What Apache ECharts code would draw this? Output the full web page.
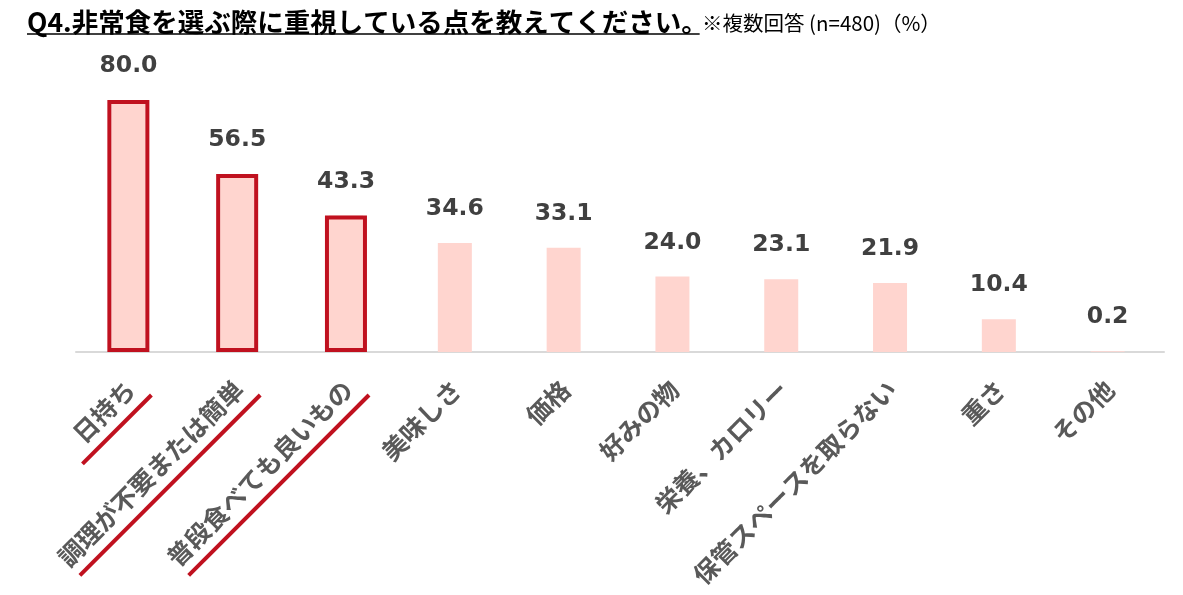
<!DOCTYPE html>
<html>
<head>
<meta charset="utf-8">
<script src="https://cdn.jsdelivr.net/npm/echarts@6/dist/echarts.min.js"></script>
<style>
  html, body { margin: 0; padding: 0; background: #fff; }
  #main { width: 1183px; height: 595px; }
</style>
</head>
<body>
<div id="main"></div>
<script>
var titleText = 'Q4.非常食を選ぶ際に重視している点を教えてください。';
var noteText = '※複数回答 (n=480)（%）';

var categories = ['日持ち', '調理が不要または簡単', '普段食べても良いもの', '美味しさ', '価格',
    '好みの物', '栄養、カロリー', '保管スペースを取らない', '重さ', 'その他'];
var values = [80.0, 56.5, 43.3, 34.6, 33.1, 24.0, 23.1, 21.9, 10.4, 0.2];
var highlighted = [0, 1, 2];   // 赤枠と下線をつける項目

var RED = '#C0111F';
var JP = '"Noto Sans CJK JP", sans-serif';

function textWidth (text, font) {
    var ctx = document.createElement('canvas').getContext('2d');
    ctx.font = font;
    return ctx.measureText(text).width;
}

var myChart = echarts.init(document.getElementById('main'));

var boxData = values.map(function (v, i) {
    return highlighted.indexOf(i) >= 0 ? v : '-';
});

myChart.setOption({
    backgroundColor: '#fff',
    animation: false,
    title: [{
        text: titleText,
        left: 22,
        top: 4,
        textStyle: { fontFamily: JP, fontSize: 26.5, fontWeight: 'bold', color: '#000' }
    }, {
        text: noteText,
        left: 697,
        top: 8,
        textStyle: { fontFamily: JP, fontSize: 20.5, fontWeight: 'normal', color: '#000' }
    }],
    grid: { left: 76, right: 19, top: 37, bottom: 243 },
    xAxis: {
        type: 'category',
        data: categories,
        axisLine: { lineStyle: { color: '#D9D9D9', width: 2 } },
        axisTick: { show: false },
        axisLabel: {
            interval: 0,
            rotate: 45,
            margin: 33,
            fontFamily: JP,
            fontSize: 25,
            fontWeight: 'bold',
            color: '#595959'
        }
    },
    yAxis: {
        type: 'value',
        min: 0,
        max: 100,
        show: false
    },
    series: [{
        name: 'value',
        type: 'bar',
        data: values,
        barWidth: 34,
        itemStyle: { color: '#FFD5CF' },
        label: {
            show: true,
            position: 'top',
            distance: 22,
            formatter: function (p) { return p.value.toFixed(1); },
            fontFamily: '"DejaVu Sans", sans-serif',
            fontSize: 23.5,
            fontWeight: 'bold',
            color: '#404040'
        },
        z: 2
    }, {
        name: 'box',
        type: 'bar',
        data: boxData,
        barWidth: 42,
        barGap: '-112%',
        itemStyle: { color: 'rgba(0,0,0,0)', borderColor: RED, borderWidth: 4 },
        label: { show: false },
        silent: true,
        z: 3
    }]
});

// タイトル下線と、強調項目ラベルの赤い下線
var titleW = textWidth(titleText, 'bold 26.5px ' + JP);
var axisY = myChart.convertToPixel({ yAxisIndex: 0 }, 0);
var lines = [{
    type: 'line',
    shape: { x1: 27, y1: 34, x2: 27 + titleW - 8, y2: 34 },
    style: { stroke: '#000', lineWidth: 1.5 }
}];
highlighted.forEach(function (i) {
    var cx = myChart.convertToPixel({ xAxisIndex: 0 }, categories[i]);
    var len = textWidth(categories[i], 'bold 25px ' + JP) * 0.9 + 30;
    var x2 = cx + 21, y2 = axisY + 43;
    var d = len / Math.SQRT2;
    lines.push({
        type: 'line',
        shape: { x1: x2 - d, y1: y2 + d, x2: x2, y2: y2 },
        style: { stroke: RED, lineWidth: 4 }
    });
});
myChart.setOption({ graphic: lines });
</script>
</body>
</html>
